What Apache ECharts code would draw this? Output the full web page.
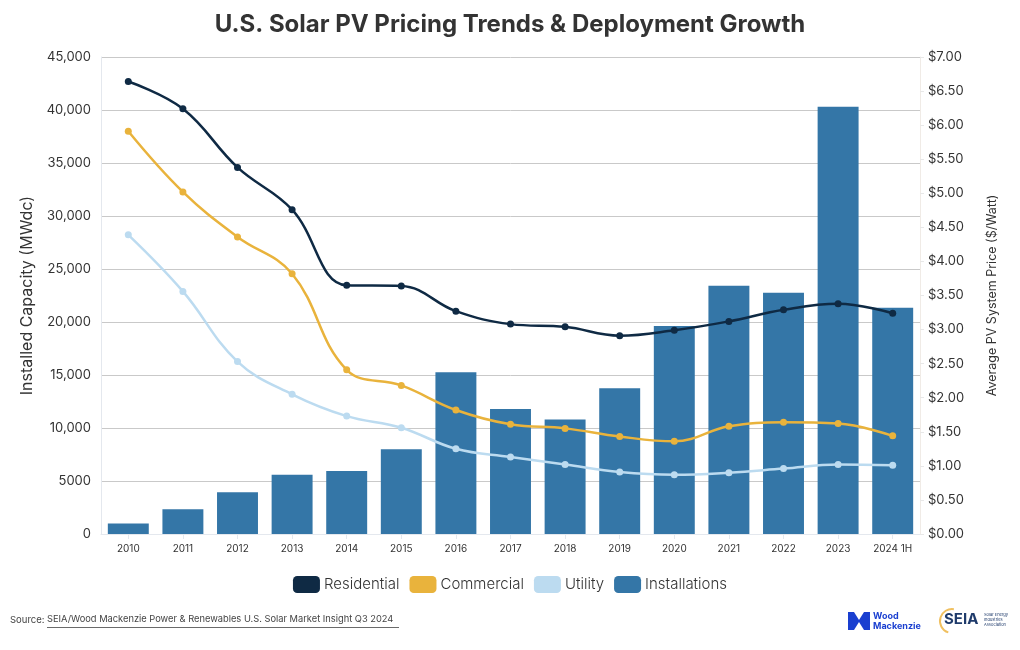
<!DOCTYPE html>
<html>
<head>
<meta charset="utf-8">
<script src="https://cdn.jsdelivr.net/npm/echarts@6/dist/echarts.min.js"></script>
<style>
html,body{margin:0;padding:0;background:#fff;}
#chart{width:1020px;height:650px;}
</style>
</head>
<body>
<div id="chart"></div>
<script>
const categories = ['2010','2011','2012','2013','2014','2015','2016','2017','2018','2019','2020','2021','2022','2023','2024 1H'];
const installations = [1000, 2330, 3950, 5600, 5950, 8000, 15250, 11800, 10800, 13750, 19620, 23430, 22770, 40300, 21350];
const residential = [6.64, 6.24, 5.38, 4.76, 3.65, 3.64, 3.27, 3.08, 3.04, 2.91, 2.99, 3.12, 3.29, 3.38, 3.24];
const commercial = [5.91, 5.02, 4.36, 3.82, 2.41, 2.18, 1.82, 1.61, 1.55, 1.43, 1.36, 1.58, 1.64, 1.62, 1.44];
const utility = [4.39, 3.56, 2.53, 2.05, 1.73, 1.56, 1.25, 1.13, 1.02, 0.91, 0.87, 0.90, 0.96, 1.02, 1.01];

const FONT = 'Inter, "Open Sans", sans-serif';
const chart = echarts.init(document.getElementById('chart'));

function lineSeries(name, data, color, width) {
  return {
    name: name, type: 'line', yAxisIndex: 1, data: data, smooth: 0.4,
    symbol: 'circle', symbolSize: 7,
    lineStyle: {color: color, width: width},
    itemStyle: {color: color},
    z: 5
  };
}

chart.setOption({
  animation: false,
  textStyle: {fontFamily: FONT},
  title: {
    text: 'U.S. Solar PV Pricing Trends & Deployment Growth',
    left: 'center', top: 8,
    textStyle: {fontFamily: FONT, fontSize: 24, fontWeight: 'bold', color: '#333'}
  },
  legend: {
    data: ['Residential','Commercial','Utility','Installations'],
    left: 'center', top: 571,
    icon: 'roundRect', itemWidth: 27, itemHeight: 17, itemGap: 10,
    textStyle: {fontFamily: FONT, fontSize: 15, color: '#333', fontWeight: 300, padding: [0,0,0,-1]}
  },
  grid: {left: 101, right: 100, top: 57, bottom: 116},
  xAxis: {
    type: 'category', data: categories,
    axisLine: {show: true, lineStyle: {color: '#e4e8ee'}},
    axisTick: {show: true, alignWithLabel: true, length: 5, lineStyle: {color: '#e4e8ee'}},
    axisLabel: {fontFamily: FONT, fontSize: 10, color: '#333', margin: 10}
  },
  yAxis: [
    {
      type: 'value', min: 0, max: 45000, interval: 5000,
      name: 'Installed Capacity (MWdc)', nameLocation: 'middle', nameGap: 66,
      nameTextStyle: {fontFamily: FONT, fontSize: 16, color: '#333'},
      axisLine: {show: true, lineStyle: {color: '#e4e8ee'}},
      axisTick: {show: false},
      axisLabel: {fontFamily: FONT, fontSize: 13, color: '#333', margin: 10,
        formatter: v => v >= 10000 ? v.toLocaleString('en-US') : String(v)},
      splitLine: {lineStyle: {color: '#c9c9c9', width: 1}}
    },
    {
      type: 'value', min: 0, max: 7, interval: 0.5,
      name: 'Average PV System Price ($/Watt)', nameLocation: 'middle', nameGap: 66,
      nameRotate: 90,
      nameTextStyle: {fontFamily: FONT, fontSize: 12.5, color: '#333'},
      axisLine: {show: true, lineStyle: {color: '#f0ebe6'}},
      axisTick: {show: true, length: 4, lineStyle: {color: '#e8e8e8'}},
      axisLabel: {fontFamily: FONT, fontSize: 13, color: '#333', margin: 8,
        formatter: v => '$' + v.toFixed(2)},
      splitLine: {show: false}
    }
  ],
  series: [
    {
      name: 'Installations', type: 'bar', data: installations, yAxisIndex: 0,
      barCategoryGap: '25%',
      itemStyle: {color: '#3476a7'},
      z: 2
    },
    lineSeries('Residential', residential, '#0f2a44', 2.5),
    lineSeries('Commercial', commercial, '#e9b33c', 2.5),
    lineSeries('Utility', utility, '#bcdbf0', 2.5)
  ],
  graphic: [
    {type: 'text', left: 10, top: 615, style: {text: 'Source: ', fontFamily: FONT, fontSize: 9.5, fill: '#444'}},
    {type: 'text', left: 47, top: 615, style: {text: 'SEIA/Wood Mackenzie Power & Renewables U.S. Solar Market Insight Q3 2024', fontFamily: FONT, fontSize: 9.3, fill: '#444'}},
    {type: 'line', shape: {x1: 47, y1: 627.5, x2: 399, y2: 627.5}, style: {stroke: '#444', lineWidth: 0.8}},
    {type: 'polygon', shape: {points: [[848,612],[854,612],[859,620],[864,612],[870,612],[870,630],[864,630],[859,622],[854,630],[848,630]]}, style: {fill: '#1a3fd0'}},
    {type: 'text', left: 873, top: 611, style: {text: 'Wood\nMackenzie', fontFamily: FONT, fontSize: 9, fontWeight: 'bold', fill: '#1a3fd0', lineHeight: 10}},
    {type: 'arc', shape: {cx: 952, cy: 621, r: 12, startAngle: Math.PI*0.6, endAngle: Math.PI*1.55}, style: {stroke: '#f0c060', lineWidth: 2, fill: null}},
    {type: 'text', left: 944, top: 612, style: {text: 'SEIA', fontFamily: FONT, fontSize: 15, fontWeight: 'bold', fill: '#1f3b6b'}},
    {type: 'text', left: 984, top: 612, style: {text: 'Solar Energy\nIndustries\nAssociation', fontFamily: FONT, fontSize: 4, fill: '#1f3b6b', lineHeight: 5}}
  ]
});
</script>
</body>
</html>
